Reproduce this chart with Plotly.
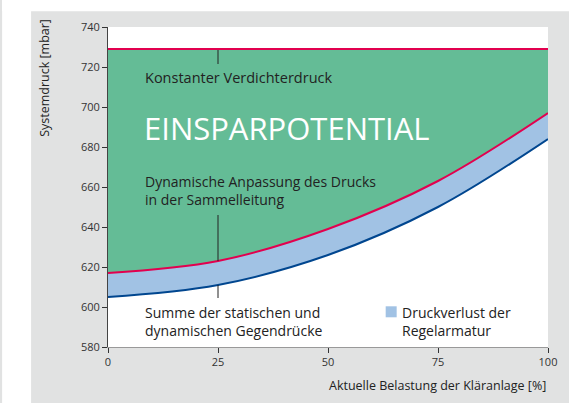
import plotly.graph_objects as go

# ---- data ----
load_pct = [0, 25, 50, 75, 100]
gegendruck = [605, 611, 626, 650, 684]          # Summe statische + dynamische Gegendrücke (blue line)
sammelleitung = [617, 623, 639, 663, 697]       # Dynamische Anpassung (red curve)
const_x = [0, 100]
const_druck = [729, 729]                         # Konstanter Verdichterdruck
x_ticks = [0, 25, 50, 75, 100]
y_ticks = [580, 600, 620, 640, 660, 680, 700, 720, 740]

GREEN = "#64bc96"
LBLUE = "#a1c2e4"
RED = "#e2004f"
NAVY = "#00468f"
GRAY_BG = "#e1e2e2"
TXT = "#222222"
FONT = "Open Sans"

fig = go.Figure()
# fills
fig.add_trace(go.Scatter(x=load_pct, y=gegendruck, mode="lines", line=dict(color=NAVY, width=0, shape="spline"),
                         hoverinfo="skip", showlegend=False))
fig.add_trace(go.Scatter(x=load_pct, y=sammelleitung, mode="lines", line=dict(color=RED, width=0, shape="spline"),
                         fill="tonexty", fillcolor=LBLUE, hoverinfo="skip", showlegend=False))
fig.add_trace(go.Scatter(x=const_x, y=const_druck, mode="lines", line=dict(color=RED, width=0),
                         fill="tonexty", fillcolor=GREEN, hoverinfo="skip", showlegend=False))
# lines on top
fig.add_trace(go.Scatter(x=load_pct, y=gegendruck, mode="lines", line=dict(color=NAVY, width=2, shape="spline"),
                         showlegend=False))
fig.add_trace(go.Scatter(x=load_pct, y=sammelleitung, mode="lines", line=dict(color=RED, width=2, shape="spline"),
                         showlegend=False))
fig.add_trace(go.Scatter(x=const_x, y=const_druck, mode="lines", line=dict(color=RED, width=2),
                         showlegend=False))
# pointer lines at 25 %
fig.add_trace(go.Scatter(x=[25, 25], y=[728.5, 721.5], mode="lines", line=dict(color="#222", width=1), showlegend=False))
fig.add_trace(go.Scatter(x=[25, 25], y=[646, sammelleitung[1]], mode="lines", line=dict(color="#222", width=1), showlegend=False))
fig.add_trace(go.Scatter(x=[25, 25], y=[gegendruck[1], 604.5], mode="lines", line=dict(color="#222", width=1), showlegend=False))

L, R, T, B = 108, 20.5, 26.7, 56.3
W, H = 569, 403
pw, ph = W - L - R, H - T - B

def px(xp):
    return (xp - L) / pw

def py(yp):
    return (H - B - yp) / ph

shapes = [
    dict(type="rect", xref="paper", yref="paper", x0=px(2), x1=px(31), y0=py(H + 5), y1=py(-5),
         fillcolor="white", line=dict(width=0), layer="below"),
    dict(type="rect", xref="paper", yref="paper", x0=px(2), x1=px(W + 5), y0=py(11), y1=py(-5),
         fillcolor="white", line=dict(width=0), layer="below"),
    # legend swatch
    dict(type="rect", xref="paper", yref="paper", x0=px(386), x1=px(397), y0=py(317), y1=py(306),
         fillcolor=LBLUE, line=dict(width=0), layer="above"),
]

ann = []
def txt(xp, yp, s, size=14, color=TXT, xanchor="left", **kw):
    ann.append(dict(xref="paper", yref="paper", x=px(xp), y=py(yp), text=s, showarrow=False,
                    xanchor=xanchor, yanchor="middle", font=dict(family=FONT, size=size, color=color), **kw))

txt(143, 77, "Konstanter Verdichterdruck", size=14.5)
txt(142, 127.5, "EINSPARPOTENTIAL", size=31, color="white")
txt(143, 180.7, "Dynamische Anpassung des Drucks")
txt(143, 199.3, "in der Sammelleitung")
txt(143, 311.7, "Summe der statischen und")
txt(143, 330.3, "dynamischen Gegendrücke")
txt(400, 312, "Druckverlust der")
txt(400, 330.6, "Regelarmatur")
txt(548, 385, "Aktuelle Belastung der Kläranlage [%]", size=12.5, xanchor="right")
txt(44.5, 78, "Systemdruck [mbar]", size=12.5, xanchor="center", textangle=-90)

fig.update_layout(
    width=W, height=H,
    margin=dict(l=L, r=R, t=T, b=B, pad=0),
    paper_bgcolor=GRAY_BG, plot_bgcolor="white",
    shapes=shapes, annotations=ann,
    font=dict(family=FONT, size=11, color="#333"),
    xaxis=dict(range=[0, 100], tickvals=x_ticks, ticks="outside", ticklen=5, tickcolor="#333",
               showgrid=False, zeroline=False, showline=True, linecolor="#999", linewidth=1,
               tickfont=dict(family=FONT, size=11, color="#333")),
    yaxis=dict(range=[580, 740], tickvals=y_ticks, ticks="outside", ticklen=5, tickcolor="#333",
               showgrid=False, zeroline=False, showline=True, linecolor="#444", linewidth=1,
               tickfont=dict(family=FONT, size=11, color="#333")),
    showlegend=False,
)

fig.write_html("out.html", config={"displayModeBar": False},
               post_script="document.body.style.margin='0px';document.body.style.overflow='hidden';")
